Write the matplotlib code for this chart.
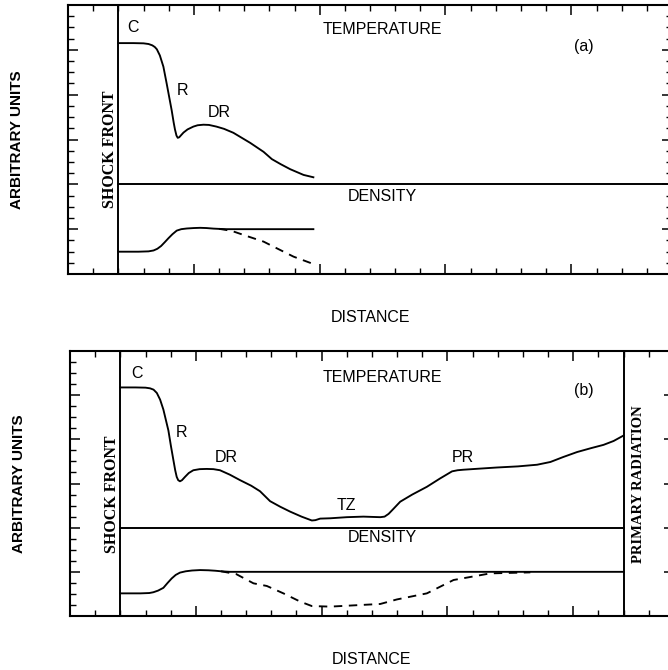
import matplotlib
matplotlib.use("Agg")
import matplotlib.pyplot as plt
from matplotlib.ticker import MultipleLocator, NullFormatter

# ---------------- data ----------------
# panel (a)
temp_a_x = [2.0, 2.6, 3.0, 3.2, 3.35, 3.45, 3.53, 3.65, 3.79, 3.92, 4.02, 4.12, 4.2, 4.25, 4.31, 4.36, 4.42, 4.5, 4.59,
            4.75, 4.98, 5.15, 5.38, 5.6, 5.9, 6.2, 6.57, 7.24, 7.77, 8.1, 8.45, 8.83, 9.36, 9.75]
temp_a_y = [20.6, 20.6, 20.58, 20.52, 20.4, 20.25, 20.05, 19.5, 18.5, 17.0, 15.8, 14.6, 13.5, 12.9, 12.35, 12.15, 12.2, 12.4, 12.62,
            12.9, 13.15, 13.27, 13.32, 13.3, 13.15, 12.95, 12.6, 11.7, 10.9, 10.25, 9.8, 9.35, 8.84, 8.63]
dens_a_x = [2.0, 2.8, 3.2, 3.4, 3.55, 3.7, 3.85, 3.99, 4.15, 4.32, 4.5, 4.72, 5.0, 5.25, 5.5, 5.78, 6.05, 6.3, 9.75]
dens_a_y = [1.99, 1.99, 2.02, 2.1, 2.25, 2.5, 2.85, 3.19, 3.55, 3.87, 4.0, 4.06, 4.1, 4.12, 4.1, 4.05, 4.02, 4.0, 4.0]
dash_a_x = [6.0, 6.5, 7.1, 7.77, 8.3, 8.96, 9.75]
dash_a_y = [4.03, 3.85, 3.39, 2.89, 2.29, 1.55, 0.89]

# panel (b)
temp_b_x = [2.0, 2.6, 3.0, 3.18, 3.32, 3.45, 3.58, 3.71, 3.91, 4.01, 4.11, 4.18, 4.24, 4.3, 4.37, 4.45, 4.57, 4.72, 4.9,
            5.15, 5.43, 5.7, 5.96, 6.35, 6.76, 7.2, 7.55, 7.95, 8.35, 8.75, 9.2, 9.61, 9.75, 9.94,
            10.34, 11.0, 11.66, 12.33, 12.5, 12.66, 12.85, 13.12, 13.6, 14.18, 14.7, 15.18, 15.4, 15.64, 16.3, 16.97,
            17.8, 18.56, 19.09, 19.6, 20.15, 20.7, 21.2, 21.6, 22.0]
temp_b_y = [20.7, 20.7, 20.68, 20.62, 20.5, 20.2, 19.6, 18.7, 16.8, 15.4, 14.1, 13.2, 12.6, 12.3, 12.2, 12.3, 12.6, 12.95, 13.2,
            13.3, 13.32, 13.3, 13.2, 12.8, 12.3, 11.8, 11.3, 10.4, 9.9, 9.45, 9.0, 8.65, 8.68, 8.82,
            8.85, 8.95, 9.0, 8.95, 9.0, 9.25, 9.7, 10.35, 11.0, 11.7, 12.45, 13.1, 13.2, 13.25, 13.35, 13.45,
            13.55, 13.7, 13.95, 14.4, 14.85, 15.2, 15.5, 15.85, 16.35]
dens_b_x = [2.0, 2.8, 3.15, 3.31, 3.5, 3.71, 3.88, 4.04, 4.2, 4.37, 4.6, 4.85, 5.17, 5.5, 5.77, 6.05, 6.36, 22.0]
dens_b_y = [2.05, 2.05, 2.08, 2.15, 2.3, 2.55, 3.0, 3.4, 3.72, 3.93, 4.05, 4.12, 4.16, 4.14, 4.1, 4.04, 4.0, 4.0]
dash_b_x = [6.0, 6.6, 7.29, 7.82, 8.48, 9.15, 9.61, 10.34, 12.33, 12.99, 14.18, 15.24, 16.7, 18.29]
dash_b_y = [4.05, 3.8, 2.96, 2.72, 2.05, 1.3, 0.9, 0.85, 1.09, 1.5, 2.05, 3.26, 3.86, 3.95]

labels_a = [("C", 2.6, 22.0), ("R", 4.55, 16.4), ("DR", 6.0, 14.4),
            ("TEMPERATURE", 12.5, 21.8), ("(a)", 20.5, 20.3), ("DENSITY", 12.5, 6.9)]
labels_b = [("C", 2.65, 22.0), ("R", 4.45, 16.6), ("DR", 6.2, 14.4), ("TZ", 11.0, 10.0),
            ("PR", 15.6, 14.4), ("TEMPERATURE", 12.4, 21.6), ("(b)", 20.4, 20.4), ("DENSITY", 12.4, 7.1)]

shock_x = 2.0
primary_x = 22.0
split_y = 8.0

# ---------------- figure ----------------
W, H = 668, 670
fig = plt.figure(figsize=(W / 100, H / 100), dpi=100)

sans = "Liberation Sans"
serif = "Liberation Serif"
LW = 1.35


def setup(ax):
    ax.set_xlim(0, 24)
    ax.set_ylim(0, 24)
    ax.xaxis.set_major_locator(MultipleLocator(5))
    ax.xaxis.set_minor_locator(MultipleLocator(1))
    ax.yaxis.set_major_locator(MultipleLocator(4))
    ax.yaxis.set_minor_locator(MultipleLocator(1))
    ax.xaxis.set_major_formatter(NullFormatter())
    ax.yaxis.set_major_formatter(NullFormatter())
    ax.tick_params(which="both", direction="in", top=True, right=True, color="black")
    ax.tick_params(which="major", length=7.5, width=1.1)
    ax.tick_params(which="minor", length=4.5, width=1.0)
    for s in ax.spines.values():
        s.set_linewidth(1.5)


def decorate(ax, labels, tx, ty, dx, dy, sx, sy, dashx, dashy, primary=False):
    ax.plot(tx, ty, color="black", lw=LW, solid_joinstyle="round")
    ax.plot(dx, dy, color="black", lw=LW, solid_joinstyle="round")
    ax.plot(dashx, dashy, color="black", lw=LW, dashes=(4.5, 3.5))
    ax.axvline(shock_x, color="black", lw=1.4)
    right = primary_x if primary else 24
    ax.plot([shock_x, right], [split_y, split_y], color="black", lw=1.4)
    if primary:
        ax.axvline(primary_x, color="black", lw=1.4)
    for txt, x, y in labels:
        ax.text(x, y, txt, fontsize=11.5, family=sans, ha="center", va="center")
    ax.text(1.65, sy, "SHOCK FRONT", rotation=90, family=serif, fontweight="bold",
            fontsize=11.5, ha="center", va="center")
    ax.text(0.5, sx, "DISTANCE", transform=ax.transAxes, fontsize=11.5, family=sans,
            ha="center", va="center")
    ax.text(-0.084, 0.5, "ARBITRARY UNITS", transform=ax.transAxes, rotation=90,
            fontsize=11, family=sans, fontweight="bold", ha="center", va="center")


ax1 = fig.add_axes([68 / W, 1 - 274 / H, 604 / W, 269 / H])
setup(ax1)
decorate(ax1, labels_a, temp_a_x, temp_a_y, dens_a_x, dens_a_y,
         (274 - 318) / 269, 11.1, dash_a_x, dash_a_y)

ax2 = fig.add_axes([70 / W, 1 - 616 / H, 604 / W, 265 / H])
setup(ax2)
decorate(ax2, labels_b, temp_b_x, temp_b_y, dens_b_x, dens_b_y,
         (616 - 660) / 265, 11.0, dash_b_x, dash_b_y, primary=True)
ax2.text(22.6, 11.9, "PRIMARY RADIATION", rotation=90, family=serif, fontweight="bold",
         fontsize=10.5, ha="center", va="center")

fig.savefig("out.png", dpi=100)
